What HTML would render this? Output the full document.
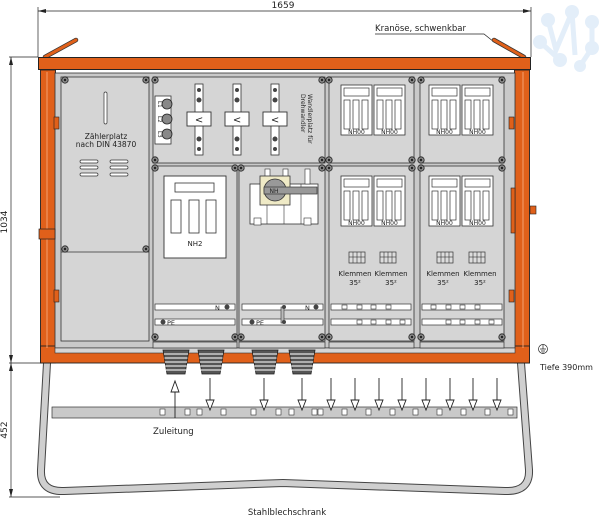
<!DOCTYPE html>
<html><head><meta charset="utf-8"><style>
html,body{margin:0;padding:0;background:#fff;}
svg{display:block;font-family:"DejaVu Sans","Liberation Sans",sans-serif;}
</style></head><body>
<svg width="600" height="517" viewBox="0 0 600 517" xmlns="http://www.w3.org/2000/svg">
<defs>
<g id="scr"><circle r="3.2" fill="#888" stroke="#222" stroke-width="0.8"/><circle r="1.2" fill="#222"/></g>
<g id="nh00">
 <rect x="0" y="0" width="31" height="50" fill="#fff" stroke="#333" stroke-width="0.8"/>
 <rect x="3" y="3" width="25" height="8" fill="#fff" stroke="#333" stroke-width="0.7"/>
 <rect x="3" y="15" width="6" height="29" fill="#fff" stroke="#333" stroke-width="0.7"/>
 <rect x="12" y="15" width="6" height="29" fill="#fff" stroke="#333" stroke-width="0.7"/>
 <rect x="21" y="15" width="6" height="29" fill="#fff" stroke="#333" stroke-width="0.7"/>
 <text x="15.5" y="49" font-size="6" text-anchor="middle" fill="#222">NH00</text>
</g>
<g id="kl">
 <rect x="-8" y="-5" width="16" height="11" fill="#ddd" stroke="#333" stroke-width="0.7"/>
 <line x1="-4" y1="-5" x2="-4" y2="6" stroke="#333" stroke-width="0.6"/>
 <line x1="0" y1="-5" x2="0" y2="6" stroke="#333" stroke-width="0.6"/>
 <line x1="4" y1="-5" x2="4" y2="6" stroke="#333" stroke-width="0.6"/>
 <line x1="-8" y1="0" x2="8" y2="0" stroke="#333" stroke-width="0.6"/>
</g>
<g id="ct">
 <rect x="-4" y="0" width="8" height="71" fill="#fff" stroke="#333" stroke-width="0.8"/>
 <circle cy="6" r="2" fill="#444"/><circle cy="16" r="2.5" fill="#444"/><circle cy="55" r="2.5" fill="#444"/><circle cy="65" r="2" fill="#444"/>
 <rect x="-12" y="28" width="24" height="14" fill="#fff" stroke="#333" stroke-width="0.9"/>
 <text x="0" y="39" font-size="10" text-anchor="middle" fill="#222">&lt;</text>
</g>
<g id="gl">
 <path d="M0 0 H26 L22 24 H4 Z" fill="#555" stroke="#222" stroke-width="0.8"/>
 <path d="M1 4H25 M1.5 8H24.5 M2 12H24 M2.5 16H23.5 M3 20H23" stroke="#ccc" stroke-width="1.4"/>
</g>
<g id="da"><line x1="0" y1="0" x2="0" y2="30" stroke="#222" stroke-width="0.9"/><path d="M-4 22 L4 22 L0 32 Z" fill="#fff" stroke="#222" stroke-width="0.9"/></g>
</defs>

<!-- watermark -->
<g fill="#e3eef9">
<circle cx="548" cy="20" r="7"/><circle cx="572" cy="12" r="7"/><circle cx="592" cy="22" r="7"/><circle cx="540" cy="42" r="7"/><circle cx="592" cy="48" r="7"/><circle cx="560" cy="60" r="7"/><circle cx="580" cy="66" r="6"/>
<path d="M548 20 L556 50 L572 12 L575 55 M540 42 L560 60 M592 22 L592 48 L580 66" stroke="#e3eef9" stroke-width="5" fill="none"/>
</g>

<!-- dimensions -->
<g stroke="#222" stroke-width="0.7" fill="none">
<line x1="38" y1="11" x2="531" y2="11"/><line x1="38" y1="7" x2="38" y2="57"/><line x1="531" y1="7" x2="531" y2="57"/>
<line x1="9" y1="57" x2="38" y2="57"/><line x1="9" y1="363" x2="48" y2="363"/><line x1="9" y1="497" x2="60" y2="497"/>
<line x1="11" y1="57" x2="11" y2="497"/>
</g>
<g fill="#222">
<path d="M38 11 L46 9 L46 13Z"/><path d="M531 11 L523 9 L523 13Z"/>
<path d="M11 57 L9 65 L13 65Z"/><path d="M11 363 L9 355 L13 355Z"/><path d="M11 363 L9 371 L13 371Z"/><path d="M11 497 L9 489 L13 489Z"/>
</g>
<text x="283" y="8" font-size="9" text-anchor="middle" fill="#222">1659</text>
<text transform="translate(7,222) rotate(-90)" font-size="9" text-anchor="middle" fill="#222">1034</text>
<text transform="translate(7,430) rotate(-90)" font-size="9" text-anchor="middle" fill="#222">452</text>
<text x="375" y="31" font-size="8.5" fill="#222">Kranöse, schwenkbar</text>
<path d="M375 34 H484 L494 42" stroke="#222" stroke-width="0.7" fill="none"/>

<!-- stand -->
<path d="M47 363 L41 470 Q40 492 64 491 L283 483 L505 491 Q530 492 529 470 L521 363" fill="none" stroke="#444" stroke-width="8"/>
<path d="M47 363 L41 470 Q40 492 64 491 L283 483 L505 491 Q530 492 529 470 L521 363" fill="none" stroke="#cfcfcf" stroke-width="6"/>

<!-- crane eyes -->
<line x1="45" y1="57" x2="76" y2="40" stroke="#333" stroke-width="4.5" stroke-linecap="round"/>
<line x1="45" y1="57" x2="76" y2="40" stroke="#e0601a" stroke-width="3" stroke-linecap="round"/>
<line x1="494" y1="40" x2="524" y2="57" stroke="#333" stroke-width="4.5" stroke-linecap="round"/>
<line x1="494" y1="40" x2="524" y2="57" stroke="#e0601a" stroke-width="3" stroke-linecap="round"/>

<!-- cabinet -->
<rect x="38.5" y="57.5" width="492" height="12" fill="#e0601a" stroke="#222" stroke-width="1"/>
<rect x="40.5" y="70" width="15" height="293" fill="#e0601a" stroke="#222" stroke-width="0.9"/>
<rect x="514.5" y="70" width="15" height="293" fill="#e0601a" stroke="#222" stroke-width="0.9"/>
<rect x="40.5" y="346" width="489" height="17" fill="#e0601a" stroke="#222" stroke-width="0.9"/>
<line x1="47" y1="72" x2="47" y2="348" stroke="#f3a070" stroke-width="1"/>
<line x1="523" y1="72" x2="523" y2="348" stroke="#f3a070" stroke-width="1"/>
<rect x="55" y="73" width="460" height="275" fill="#c9c9c9" stroke="#333" stroke-width="0.8"/>
<rect x="55" y="348" width="460" height="5" fill="#d6d6d6" stroke="#333" stroke-width="0.6"/>
<!-- hinges -->
<rect x="39" y="229" width="16" height="10" fill="#e0601a" stroke="#222" stroke-width="0.7"/>
<rect x="54" y="117" width="5" height="12" fill="#e0601a" stroke="#222" stroke-width="0.6"/>
<rect x="54" y="290" width="5" height="12" fill="#e0601a" stroke="#222" stroke-width="0.6"/>
<rect x="509" y="117" width="5" height="12" fill="#e0601a" stroke="#222" stroke-width="0.6"/>
<rect x="509" y="290" width="5" height="12" fill="#e0601a" stroke="#222" stroke-width="0.6"/>
<rect x="530" y="206" width="6" height="8" fill="#e0601a" stroke="#222" stroke-width="0.6"/>
<rect x="511" y="188" width="4" height="45" fill="#e0601a" stroke="#222" stroke-width="0.6"/>

<!-- columns -->
<g fill="#d5d5d5" stroke="#333" stroke-width="0.8">
<rect x="61" y="77" width="88" height="264"/>
<rect x="153" y="77" width="172" height="86"/>
<rect x="153" y="166" width="84" height="175"/>
<rect x="239" y="166" width="86" height="175"/>
<rect x="329" y="77" width="85" height="86"/>
<rect x="329" y="166" width="85" height="175"/>
<rect x="420" y="77" width="84" height="86"/>
<rect x="420" y="166" width="84" height="175"/>
</g>
<line x1="61" y1="252" x2="149" y2="252" stroke="#333" stroke-width="0.8"/>
<g fill="#d0d0d0" stroke="#333" stroke-width="0.7">
<rect x="153" y="342" width="84" height="6"/><rect x="239" y="342" width="86" height="6"/><rect x="329" y="342" width="85" height="6"/><rect x="420" y="342" width="84" height="6"/>
</g>
<!-- screws -->
<g>
<use href="#scr" x="65" y="80"/><use href="#scr" x="146" y="80"/><use href="#scr" x="65" y="249"/><use href="#scr" x="146" y="249"/>
<use href="#scr" x="155" y="80"/><use href="#scr" x="322" y="80"/><use href="#scr" x="329" y="80"/><use href="#scr" x="412" y="80"/><use href="#scr" x="421" y="80"/><use href="#scr" x="502" y="80"/>
<use href="#scr" x="155" y="160"/><use href="#scr" x="155" y="168"/><use href="#scr" x="235" y="168"/><use href="#scr" x="241" y="168"/><use href="#scr" x="322" y="160"/><use href="#scr" x="322" y="168"/><use href="#scr" x="329" y="160"/><use href="#scr" x="329" y="168"/><use href="#scr" x="412" y="160"/><use href="#scr" x="412" y="168"/><use href="#scr" x="421" y="160"/><use href="#scr" x="421" y="168"/><use href="#scr" x="502" y="160"/><use href="#scr" x="502" y="168"/>
<use href="#scr" x="155" y="337"/><use href="#scr" x="235" y="337"/><use href="#scr" x="241" y="337"/><use href="#scr" x="322" y="337"/><use href="#scr" x="329" y="337"/><use href="#scr" x="412" y="337"/><use href="#scr" x="421" y="337"/><use href="#scr" x="502" y="337"/>
</g>

<!-- meter column -->
<rect x="104" y="92" width="3" height="32" rx="1.5" fill="#fff" stroke="#333" stroke-width="0.7"/>
<text x="106" y="139" font-size="7.5" text-anchor="middle" fill="#222">Zählerplatz</text>
<text x="106" y="147" font-size="7.5" text-anchor="middle" fill="#222">nach DIN 43870</text>
<g fill="#fff" stroke="#333" stroke-width="0.7">
<rect x="80" y="160" width="18" height="3" rx="1.5"/><rect x="80" y="166" width="18" height="3" rx="1.5"/><rect x="80" y="173" width="18" height="3" rx="1.5"/>
<rect x="110" y="160" width="18" height="3" rx="1.5"/><rect x="110" y="166" width="18" height="3" rx="1.5"/><rect x="110" y="173" width="18" height="3" rx="1.5"/>
</g>

<!-- L1-L3 block -->
<rect x="155" y="96" width="16" height="48" fill="#fff" stroke="#333" stroke-width="0.8"/>
<g fill="#888" stroke="#222" stroke-width="0.8"><circle cx="167" cy="104" r="5"/><circle cx="167" cy="119" r="5"/><circle cx="167" cy="134" r="5"/></g>
<g font-size="5.5" fill="#222"><text transform="translate(158,101) rotate(90)">L1</text><text transform="translate(158,116) rotate(90)">L2</text><text transform="translate(158,131) rotate(90)">L3</text></g>
<use href="#ct" x="199" y="84"/><use href="#ct" x="237" y="84"/><use href="#ct" x="275" y="84"/>
<text transform="translate(308,94) rotate(90)" font-size="6" fill="#222">Wandlerplatz für</text>
<text transform="translate(301,94) rotate(90)" font-size="6" fill="#222">Drehwandler</text>

<!-- NH2 -->
<rect x="164" y="176" width="62" height="82" fill="#fff" stroke="#333" stroke-width="0.9"/>
<rect x="175" y="183" width="39" height="9" fill="#fff" stroke="#333" stroke-width="0.8"/>
<rect x="171" y="200" width="10" height="33" fill="#fff" stroke="#333" stroke-width="0.8"/>
<rect x="189" y="200" width="10" height="33" fill="#fff" stroke="#333" stroke-width="0.8"/>
<rect x="206" y="200" width="10" height="33" fill="#fff" stroke="#333" stroke-width="0.8"/>
<text x="195" y="246" font-size="7" text-anchor="middle" fill="#222">NH2</text>

<!-- switch -->
<rect x="250" y="184" width="68" height="40" fill="#fff" stroke="#333" stroke-width="0.8"/>
<line x1="267" y1="184" x2="267" y2="224" stroke="#333" stroke-width="0.6"/><line x1="284" y1="184" x2="284" y2="224" stroke="#333" stroke-width="0.6"/><line x1="301" y1="184" x2="301" y2="224" stroke="#333" stroke-width="0.6"/>
<rect x="265" y="169" width="5" height="8" fill="#fff" stroke="#333" stroke-width="0.6"/><rect x="283" y="169" width="5" height="8" fill="#fff" stroke="#333" stroke-width="0.6"/><rect x="305" y="169" width="5" height="15" fill="#fff" stroke="#333" stroke-width="0.6"/>
<rect x="254" y="218" width="7" height="7" fill="#fff" stroke="#333" stroke-width="0.6"/><rect x="304" y="218" width="7" height="7" fill="#fff" stroke="#333" stroke-width="0.6"/>
<rect x="260" y="176" width="30" height="29" fill="#efeac6" stroke="#333" stroke-width="0.8"/>
<circle cx="275" cy="190" r="11" fill="#999" stroke="#333" stroke-width="0.8"/>
<rect x="264" y="187" width="53" height="7" fill="#999" stroke="#333" stroke-width="0.7"/>
<text x="274" y="193" font-size="6" text-anchor="middle" fill="#222">NH</text>

<!-- NH00 fuses -->
<use href="#nh00" x="341" y="85"/><use href="#nh00" x="374" y="85"/><use href="#nh00" x="429" y="85"/><use href="#nh00" x="462" y="85"/>
<use href="#nh00" x="341" y="176"/><use href="#nh00" x="374" y="176"/><use href="#nh00" x="429" y="176"/><use href="#nh00" x="462" y="176"/>
<use href="#kl" x="357" y="257"/><use href="#kl" x="388" y="257"/><use href="#kl" x="445" y="257"/><use href="#kl" x="477" y="257"/>
<g font-size="7" text-anchor="middle" fill="#222">
<text x="355" y="276">Klemmen</text><text x="355" y="285">35²</text>
<text x="391" y="276">Klemmen</text><text x="391" y="285">35²</text>
<text x="443" y="276">Klemmen</text><text x="443" y="285">35²</text>
<text x="480" y="276">Klemmen</text><text x="480" y="285">35²</text>
</g>

<!-- rails -->
<g fill="#fff" stroke="#333" stroke-width="0.7">
<rect x="155" y="304" width="80" height="6"/><rect x="242" y="304" width="81" height="6"/><rect x="331" y="304" width="80" height="6"/><rect x="422" y="304" width="80" height="6"/>
<rect x="155" y="319" width="80" height="6"/><rect x="242" y="319" width="81" height="6"/><rect x="331" y="319" width="80" height="6"/><rect x="422" y="319" width="80" height="6"/>
</g>
<rect x="281" y="307" width="3" height="16" fill="#bbb" stroke="#333" stroke-width="0.6"/>
<g font-size="6.5" fill="#222"><text x="215" y="310">N</text><text x="305" y="310">N</text><text x="167" y="325">PE</text><text x="256" y="325">PE</text></g>
<g fill="#444"><circle cx="227" cy="307" r="2.5"/><circle cx="316" cy="307" r="2.5"/><circle cx="163" cy="322" r="2.5"/><circle cx="252" cy="322" r="2.5"/><circle cx="284" cy="307" r="2"/><circle cx="284" cy="322" r="2"/></g>
<g fill="#fff" stroke="#333" stroke-width="0.6">
<rect x="342" y="305" width="5" height="4"/><rect x="357" y="305" width="5" height="4"/><rect x="371" y="305" width="5" height="4"/><rect x="386" y="305" width="5" height="4"/>
<rect x="431" y="305" width="5" height="4"/><rect x="446" y="305" width="5" height="4"/><rect x="460" y="305" width="5" height="4"/><rect x="475" y="305" width="5" height="4"/>
<rect x="357" y="320" width="5" height="4"/><rect x="371" y="320" width="5" height="4"/><rect x="386" y="320" width="5" height="4"/><rect x="400" y="320" width="5" height="4"/>
<rect x="446" y="320" width="5" height="4"/><rect x="460" y="320" width="5" height="4"/><rect x="475" y="320" width="5" height="4"/><rect x="489" y="320" width="5" height="4"/>
</g>

<!-- glands -->
<use href="#gl" x="163" y="350"/><use href="#gl" x="198" y="350"/><use href="#gl" x="252" y="350"/><use href="#gl" x="289" y="350"/>

<!-- bottom rail -->
<rect x="52" y="407" width="465" height="11" fill="#c9c9c9" stroke="#333" stroke-width="0.7"/>
<g fill="#fff" stroke="#333" stroke-width="0.6">
<rect x="160" y="409" width="5" height="6"/><rect x="185" y="409" width="5" height="6"/><rect x="197" y="409" width="5" height="6"/><rect x="221" y="409" width="5" height="6"/>
<rect x="251" y="409" width="5" height="6"/><rect x="276" y="409" width="5" height="6"/><rect x="289" y="409" width="5" height="6"/><rect x="312" y="409" width="5" height="6"/><rect x="318" y="409" width="5" height="6"/>
<rect x="342" y="409" width="5" height="6"/><rect x="366" y="409" width="5" height="6"/><rect x="390" y="409" width="5" height="6"/><rect x="413" y="409" width="5" height="6"/><rect x="437" y="409" width="5" height="6"/><rect x="461" y="409" width="5" height="6"/><rect x="485" y="409" width="5" height="6"/><rect x="508" y="409" width="5" height="6"/>
</g>
<line x1="175" y1="384" x2="175" y2="418" stroke="#222" stroke-width="0.9"/>
<path d="M171 392 L179 392 L175 381 Z" fill="#fff" stroke="#222" stroke-width="0.9"/>
<use href="#da" x="210" y="378"/><use href="#da" x="264" y="378"/><use href="#da" x="302" y="378"/><use href="#da" x="331" y="378"/><use href="#da" x="355" y="378"/><use href="#da" x="379" y="378"/><use href="#da" x="402" y="378"/><use href="#da" x="426" y="378"/><use href="#da" x="450" y="378"/><use href="#da" x="473" y="378"/><use href="#da" x="497" y="378"/>

<text x="153" y="434" font-size="8.5" fill="#222">Zuleitung</text>
<text x="287" y="515" font-size="8.5" text-anchor="middle" fill="#222">Stahlblechschrank</text>
<text x="540" y="370" font-size="8" fill="#222">Tiefe 390mm</text>
<circle cx="543" cy="349" r="4.5" fill="none" stroke="#222" stroke-width="0.7"/>
<path d="M543 345 V349 M540 349 H546 M541 351 H545 M542 353 H544" stroke="#222" stroke-width="0.7"/>
</svg>
</body></html>
